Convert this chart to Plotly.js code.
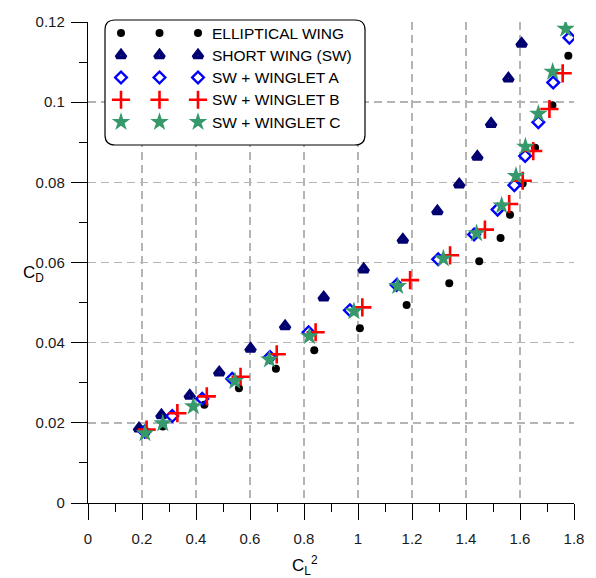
<!DOCTYPE html>
<html>
<head>
<meta charset="utf-8">
<script src="https://cdn.plot.ly/plotly-3.0.1.min.js"></script>
<style>html,body{margin:0;padding:0;background:#fff;}#chart{width:596px;height:578px;}</style>
</head>
<body>
<div id="chart"></div>
<script>
// ---- data ----
const seriesNames = ['ELLIPTICAL WING', 'SHORT WING (SW)', 'SW + WINGLET A', 'SW + WINGLET B', 'SW + WINGLET C'];

const ellipticalCL2 = [0.215, 0.277, 0.431, 0.559, 0.696, 0.838, 1.007, 1.180, 1.338, 1.449, 1.528, 1.563, 1.610, 1.656, 1.720, 1.779];
const ellipticalCD  = [0.0175, 0.0191, 0.0245, 0.0286, 0.0335, 0.0381, 0.0436, 0.0494, 0.0548, 0.0603, 0.0661, 0.0719, 0.0797, 0.0886, 0.0992, 0.1116];

const shortCL2 = [0.189, 0.272, 0.377, 0.486, 0.602, 0.730, 0.873, 1.021, 1.166, 1.294, 1.375, 1.442, 1.493, 1.557, 1.606];
const shortCD  = [0.0186, 0.0219, 0.0268, 0.0326, 0.0385, 0.0441, 0.0513, 0.0583, 0.0657, 0.0728, 0.0795, 0.0864, 0.0946, 0.1059, 0.1146];

const wingletACL2 = [0.210, 0.312, 0.423, 0.534, 0.674, 0.817, 0.970, 1.143, 1.297, 1.430, 1.517, 1.579, 1.619, 1.668, 1.723, 1.783];
const wingletACD  = [0.0178, 0.0217, 0.0260, 0.0310, 0.0364, 0.0426, 0.0481, 0.0544, 0.0608, 0.0670, 0.0732, 0.0793, 0.0866, 0.0950, 0.1049, 0.1161];

const wingletBCL2 = [0.217, 0.331, 0.440, 0.565, 0.699, 0.843, 1.016, 1.193, 1.341, 1.470, 1.560, 1.610, 1.649, 1.709, 1.758];
const wingletBCD  = [0.0183, 0.0224, 0.0266, 0.0315, 0.0371, 0.0426, 0.0488, 0.0556, 0.0618, 0.0682, 0.0746, 0.0804, 0.0878, 0.0983, 0.1072];

const wingletCCL2 = [0.211, 0.277, 0.390, 0.544, 0.672, 0.820, 0.985, 1.147, 1.316, 1.439, 1.532, 1.585, 1.620, 1.668, 1.721, 1.769];
const wingletCCD  = [0.0174, 0.0199, 0.0241, 0.0304, 0.0358, 0.0416, 0.0478, 0.0541, 0.0610, 0.0673, 0.0742, 0.0816, 0.0889, 0.0971, 0.1076, 0.1183];

const xTickVals = [0, 0.2, 0.4, 0.6, 0.8, 1, 1.2, 1.4, 1.6, 1.8];
const yTickVals = [0, 0.02, 0.04, 0.06, 0.08, 0.1, 0.12];
const legendSlots = [0, 1, 2];

// ---- styles ----
const styles = [
  {symbol: 'circle', size: 8, color: '#000000', line: {width: 0}},
  {symbol: 'triangle-up-open', size: 8, color: '#000070', line: {width: 4.2, color: '#000070'}},
  {symbol: 'diamond-open', size: 9, color: '#0000ff', line: {width: 2.4, color: '#0000ff'}},
  {symbol: 'cross-thin-open', size: 13, color: '#ff0000', line: {width: 2.6, color: '#ff0000'}},
  {symbol: 'star', size: 14, color: '#35996b', line: {width: 0}}
];
const xs = [ellipticalCL2, shortCL2, wingletACL2, wingletBCL2, wingletCCL2];
const ys = [ellipticalCD, shortCD, wingletACD, wingletBCD, wingletCCD];

const traces = [];
for (let i = 0; i < seriesNames.length; i++) {
  traces.push({
    type: 'scatter', mode: 'markers', name: seriesNames[i],
    x: xs[i], y: ys[i], marker: styles[i], showlegend: false, hoverinfo: 'x+y'
  });
}
// legend samples (three symbols per row, like the original)
for (let i = 0; i < seriesNames.length; i++) {
  traces.push({
    type: 'scatter', mode: 'markers', name: seriesNames[i] + ' (legend)',
    x: legendSlots, y: legendSlots.map(() => i),
    xaxis: 'x2', yaxis: 'y2', marker: styles[i], showlegend: false, hoverinfo: 'skip'
  });
}

// pixel helpers for paper coordinates
const L = 88, R = 22, T = 22, B = 75, W = 596, H = 578;
const pw = W - L - R, ph = H - T - B;
const px = v => (v - L) / pw;
const py = v => (H - B - v) / ph;

function roundRect(x0, y0, x1, y1, r) {
  const rx = r / pw, ry = r / ph;
  const a = px(x0), b = px(x1), top = py(y0), bot = py(y1);
  return `M ${a + rx} ${top} L ${b - rx} ${top} Q ${b} ${top} ${b} ${top - ry} ` +
         `L ${b} ${bot + ry} Q ${b} ${bot} ${b - rx} ${bot} L ${a + rx} ${bot} ` +
         `Q ${a} ${bot} ${a} ${bot + ry} L ${a} ${top - ry} Q ${a} ${top} ${a + rx} ${top} Z`;
}
const boxPath = roundRect(105, 20, 365, 145, 10);

const font = {family: '"Liberation Sans", Arial, sans-serif', color: '#000'};
const annotations = seriesNames.map((n, i) => ({
  xref: 'x2', yref: 'y2', x: 2.3, y: i, text: n, showarrow: false,
  xanchor: 'left', yanchor: 'middle', font: Object.assign({size: 15.5}, font)
}));
annotations.push({
  xref: 'paper', yref: 'paper', x: px(33), y: py(274), text: 'C<sub>D</sub>',
  showarrow: false, xanchor: 'center', yanchor: 'middle', font: Object.assign({size: 17}, font)
});
annotations.push({
  xref: 'paper', yref: 'paper', x: px(305), y: py(565), text: 'C<sub>L</sub><sup>2</sup>',
  showarrow: false, xanchor: 'center', yanchor: 'middle', font: Object.assign({size: 17}, font)
});

const gridStyle = {showgrid: true, gridcolor: '#b4b4b4', gridwidth: 1.5, griddash: '8px,5px'};

const layout = {
  width: W, height: H,
  margin: {l: L, r: R, t: T, b: B, pad: 0},
  paper_bgcolor: '#fff', plot_bgcolor: '#fff',
  font: Object.assign({size: 15}, font),
  showlegend: false,
  xaxis: Object.assign({
    range: [0, 1.8], tickvals: xTickVals, ticks: 'outside', ticklen: 16, tickwidth: 1, tickcolor: '#000',
    showline: true, linecolor: '#000', linewidth: 1.2, zeroline: false, ticklabelstandoff: 6,
    minor: {dtick: 0.1, ticks: 'outside', ticklen: 8, tickcolor: '#000', showgrid: false},
    tickfont: Object.assign({size: 15}, font, {color: '#1a1a1a'}), fixedrange: true
  }, gridStyle),
  yaxis: Object.assign({
    range: [0, 0.12], tickvals: yTickVals, ticks: 'outside', ticklen: 16, tickwidth: 1, tickcolor: '#000',
    showline: true, linecolor: '#000', linewidth: 1.2, zeroline: false, ticklabelstandoff: 3,
    minor: {dtick: 0.01, ticks: 'outside', ticklen: 8, tickcolor: '#000', showgrid: false},
    tickfont: Object.assign({size: 15}, font, {color: '#1a1a1a'}), fixedrange: true
  }, gridStyle),
  xaxis2: {domain: [px(105), px(365)], range: [-16 / 38.5, (365 - 121) / 38.5], visible: false, anchor: 'y2', fixedrange: true},
  yaxis2: {domain: [py(145), 1], range: [4 + 23 / 22.25, -11 / 22.25], visible: false, anchor: 'x2', fixedrange: true},
  shapes: [
    {type: 'path', xref: 'paper', yref: 'paper', path: boxPath, fillcolor: '#ffffff', line: {width: 0}, layer: 'between'},
    {type: 'path', xref: 'paper', yref: 'paper', path: boxPath, fillcolor: 'rgba(0,0,0,0)', line: {width: 1.2, color: '#000'}, layer: 'above'}
  ],
  annotations: annotations
};

Plotly.newPlot('chart', traces, layout, {staticPlot: true, displayModeBar: false});
</script>
</body>
</html>
